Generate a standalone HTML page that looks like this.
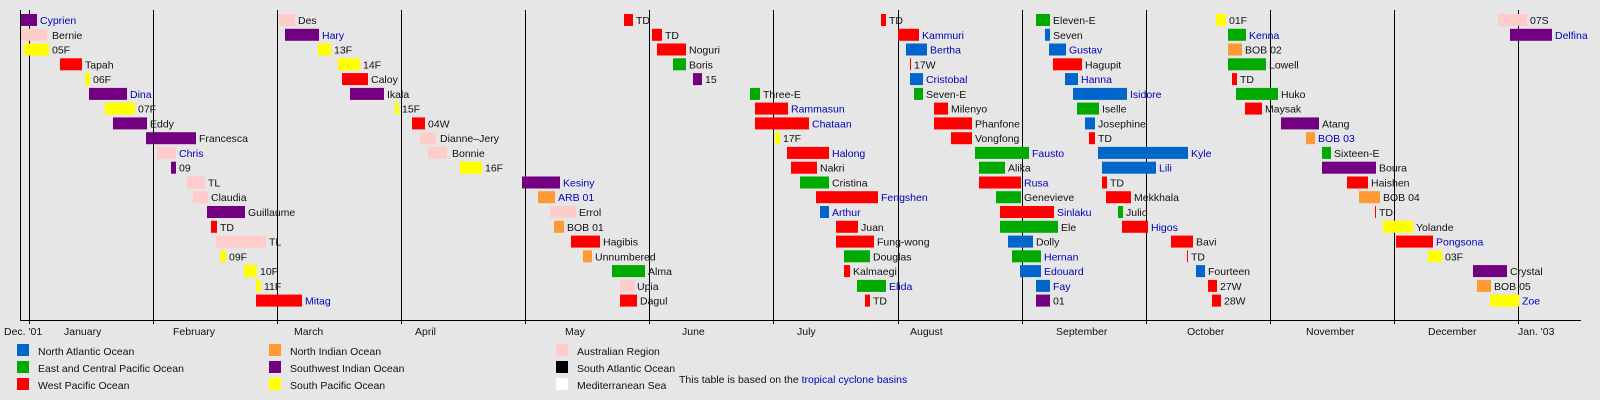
<!DOCTYPE html>
<html><head><meta charset="utf-8"><style>
html,body{margin:0;padding:0;background:#e6e6e6;}
svg{display:block;font-family:"Liberation Sans",Arial,sans-serif;font-size:10.5px;}
.r{fill:#ff0000}.p{fill:#720080}.k{fill:#ffcccc}.y{fill:#ffff00}.g{fill:#00aa00}.b{fill:#0066cc}.o{fill:#ff9933}
text{fill:#111}.l{fill:#0000bb}
</style></head><body>
<svg width="1600" height="400" viewBox="0 0 1600 400" xmlns="http://www.w3.org/2000/svg">
<rect width="1600" height="400" fill="#e6e6e6"/>
<g stroke="#000" stroke-width="1">
<line x1="20.5" y1="10" x2="20.5" y2="321"/>
<line x1="20" y1="320.5" x2="1581" y2="320.5"/>
<line x1="29.5" y1="10" x2="29.5" y2="324"/>
<line x1="153.5" y1="10" x2="153.5" y2="324"/>
<line x1="277.5" y1="10" x2="277.5" y2="324"/>
<line x1="401.5" y1="10" x2="401.5" y2="324"/>
<line x1="525.5" y1="10" x2="525.5" y2="324"/>
<line x1="649.5" y1="10" x2="649.5" y2="324"/>
<line x1="773.5" y1="10" x2="773.5" y2="324"/>
<line x1="898.5" y1="10" x2="898.5" y2="324"/>
<line x1="1022.5" y1="10" x2="1022.5" y2="324"/>
<line x1="1146.5" y1="10" x2="1146.5" y2="324"/>
<line x1="1270.5" y1="10" x2="1270.5" y2="324"/>
<line x1="1394.5" y1="10" x2="1394.5" y2="324"/>
<line x1="1518.5" y1="10" x2="1518.5" y2="324"/>
</g>
<g>
<text x="4" y="335">Dec. '01</text>
<text x="64" y="335">January</text>
<text x="173" y="335">February</text>
<text x="294" y="335">March</text>
<text x="415" y="335">April</text>
<text x="565" y="335">May</text>
<text x="682" y="335">June</text>
<text x="797" y="335">July</text>
<text x="910" y="335">August</text>
<text x="1056" y="335">September</text>
<text x="1187" y="335">October</text>
<text x="1306" y="335">November</text>
<text x="1428" y="335">December</text>
<text x="1518" y="335">Jan. '03</text>
</g>

<g transform="translate(0,14)">
<rect class="p" x="21" y="0" width="16" height="12"/><text class="l" x="40" y="10">Cyprien</text>
<rect class="k" x="279" y="0" width="16" height="12"/><text x="298" y="10">Des</text>
<rect class="r" x="624" y="0" width="9" height="12"/><text x="636" y="10">TD</text>
<rect class="r" x="881" y="0" width="5" height="12"/><text x="889" y="10">TD</text>
<rect class="g" x="1036" y="0" width="14" height="12"/><text x="1053" y="10">Eleven-E</text>
<rect class="y" x="1216" y="0" width="10" height="12"/><text x="1229" y="10">01F</text>
<rect class="k" x="1498" y="0" width="29" height="12"/><text x="1530" y="10">07S</text>
</g>
<g transform="translate(0,28.8)">
<rect class="k" x="21" y="0" width="26" height="12"/><text x="52" y="10">Bernie</text>
<rect class="p" x="285" y="0" width="34" height="12"/><text class="l" x="322" y="10">Hary</text>
<rect class="r" x="652" y="0" width="10" height="12"/><text x="665" y="10">TD</text>
<rect class="r" x="898" y="0" width="21" height="12"/><text class="l" x="922" y="10">Kammuri</text>
<rect class="b" x="1045" y="0" width="5" height="12"/><text x="1053" y="10">Seven</text>
<rect class="g" x="1228" y="0" width="18" height="12"/><text class="l" x="1249" y="10">Kenna</text>
<rect class="p" x="1510" y="0" width="42" height="12"/><text class="l" x="1555" y="10">Delfina</text>
</g>
<g transform="translate(0,43.5)">
<rect class="y" x="24" y="0" width="25" height="12"/><text x="52" y="10">05F</text>
<rect class="y" x="318" y="0" width="13" height="12"/><text x="334" y="10">13F</text>
<rect class="r" x="657" y="0" width="29" height="12"/><text x="689" y="10">Noguri</text>
<rect class="b" x="906" y="0" width="21" height="12"/><text class="l" x="930" y="10">Bertha</text>
<rect class="b" x="1049" y="0" width="17" height="12"/><text class="l" x="1069" y="10">Gustav</text>
<rect class="o" x="1228" y="0" width="14" height="12"/><text x="1245" y="10">BOB 02</text>
</g>
<g transform="translate(0,58.3)">
<rect class="r" x="60" y="0" width="22" height="12"/><text x="85" y="10">Tapah</text>
<rect class="y" x="338" y="0" width="22" height="12"/><text x="363" y="10">14F</text>
<rect class="g" x="673" y="0" width="13" height="12"/><text x="689" y="10">Boris</text>
<rect class="r" x="910" y="0" width="1" height="12"/><text x="914" y="10">17W</text>
<rect class="r" x="1053" y="0" width="29" height="12"/><text x="1085" y="10">Hagupit</text>
<rect class="g" x="1228" y="0" width="38" height="12"/><text x="1269" y="10">Lowell</text>
</g>
<g transform="translate(0,73.1)">
<rect class="y" x="85" y="0" width="5" height="12"/><text x="93" y="10">06F</text>
<rect class="r" x="342" y="0" width="26" height="12"/><text x="371" y="10">Caloy</text>
<rect class="p" x="693" y="0" width="9" height="12"/><text x="705" y="10">15</text>
<rect class="b" x="910" y="0" width="13" height="12"/><text class="l" x="926" y="10">Cristobal</text>
<rect class="b" x="1065" y="0" width="13" height="12"/><text class="l" x="1081" y="10">Hanna</text>
<rect class="r" x="1232" y="0" width="5" height="12"/><text x="1240" y="10">TD</text>
</g>
<g transform="translate(0,87.9)">
<rect class="p" x="89" y="0" width="38" height="12"/><text class="l" x="130" y="10">Dina</text>
<rect class="p" x="350" y="0" width="34" height="12"/><text x="387" y="10">Ikala</text>
<rect class="g" x="750" y="0" width="10" height="12"/><text x="763" y="10">Three-E</text>
<rect class="g" x="914" y="0" width="9" height="12"/><text x="926" y="10">Seven-E</text>
<rect class="b" x="1073" y="0" width="54" height="12"/><text class="l" x="1130" y="10">Isidore</text>
<rect class="g" x="1236" y="0" width="42" height="12"/><text x="1281" y="10">Huko</text>
</g>
<g transform="translate(0,102.6)">
<rect class="y" x="105" y="0" width="30" height="12"/><text x="138" y="10">07F</text>
<rect class="y" x="395" y="0" width="4" height="12"/><text x="402" y="10">15F</text>
<rect class="r" x="755" y="0" width="33" height="12"/><text class="l" x="791" y="10">Rammasun</text>
<rect class="r" x="934" y="0" width="14" height="12"/><text x="951" y="10">Milenyo</text>
<rect class="g" x="1077" y="0" width="22" height="12"/><text x="1102" y="10">Iselle</text>
<rect class="r" x="1245" y="0" width="17" height="12"/><text x="1265" y="10">Maysak</text>
</g>
<g transform="translate(0,117.4)">
<rect class="p" x="113" y="0" width="34" height="12"/><text x="150" y="10">Eddy</text>
<rect class="r" x="412" y="0" width="13" height="12"/><text x="428" y="10">04W</text>
<rect class="r" x="755" y="0" width="54" height="12"/><text class="l" x="812" y="10">Chataan</text>
<rect class="r" x="934" y="0" width="38" height="12"/><text x="975" y="10">Phanfone</text>
<rect class="b" x="1085" y="0" width="10" height="12"/><text x="1098" y="10">Josephine</text>
<rect class="p" x="1281" y="0" width="38" height="12"/><text x="1322" y="10">Atang</text>
</g>
<g transform="translate(0,132.2)">
<rect class="p" x="146" y="0" width="50" height="12"/><text x="199" y="10">Francesca</text>
<rect class="k" x="420" y="0" width="16" height="12"/><text x="440" y="10">Dianne–Jery</text>
<rect class="y" x="775" y="0" width="5" height="12"/><text x="783" y="10">17F</text>
<rect class="r" x="951" y="0" width="21" height="12"/><text x="975" y="10">Vongfong</text>
<rect class="r" x="1089" y="0" width="6" height="12"/><text x="1098" y="10">TD</text>
<rect class="o" x="1306" y="0" width="9" height="12"/><text class="l" x="1318" y="10">BOB 03</text>
</g>
<g transform="translate(0,146.9)">
<rect class="k" x="157" y="0" width="19" height="12"/><text class="l" x="179" y="10">Chris</text>
<rect class="k" x="428" y="0" width="19" height="12"/><text x="452" y="10">Bonnie</text>
<rect class="r" x="787" y="0" width="42" height="12"/><text class="l" x="832" y="10">Halong</text>
<rect class="g" x="975" y="0" width="54" height="12"/><text class="l" x="1032" y="10">Fausto</text>
<rect class="b" x="1098" y="0" width="90" height="12"/><text class="l" x="1191" y="10">Kyle</text>
<rect class="g" x="1322" y="0" width="9" height="12"/><text x="1334" y="10">Sixteen-E</text>
</g>
<g transform="translate(0,161.7)">
<rect class="p" x="171" y="0" width="5" height="12"/><text x="179" y="10">09</text>
<rect class="y" x="460" y="0" width="22" height="12"/><text x="485" y="10">16F</text>
<rect class="r" x="791" y="0" width="26" height="12"/><text x="820" y="10">Nakri</text>
<rect class="g" x="979" y="0" width="26" height="12"/><text x="1008" y="10">Alika</text>
<rect class="b" x="1102" y="0" width="54" height="12"/><text class="l" x="1159" y="10">Lili</text>
<rect class="p" x="1322" y="0" width="54" height="12"/><text x="1379" y="10">Boura</text>
</g>
<g transform="translate(0,176.5)">
<rect class="k" x="187" y="0" width="18" height="12"/><text x="208" y="10">TL</text>
<rect class="p" x="522" y="0" width="38" height="12"/><text class="l" x="563" y="10">Kesiny</text>
<rect class="g" x="800" y="0" width="29" height="12"/><text x="832" y="10">Cristina</text>
<rect class="r" x="979" y="0" width="42" height="12"/><text class="l" x="1024" y="10">Rusa</text>
<rect class="r" x="1102" y="0" width="5" height="12"/><text x="1110" y="10">TD</text>
<rect class="r" x="1347" y="0" width="21" height="12"/><text x="1371" y="10">Haishen</text>
</g>
<g transform="translate(0,191.2)">
<rect class="k" x="193" y="0" width="15" height="12"/><text x="211" y="10">Claudia</text>
<rect class="o" x="538" y="0" width="17" height="12"/><text class="l" x="558" y="10">ARB 01</text>
<rect class="r" x="816" y="0" width="62" height="12"/><text class="l" x="881" y="10">Fengshen</text>
<rect class="g" x="996" y="0" width="25" height="12"/><text x="1024" y="10">Genevieve</text>
<rect class="r" x="1106" y="0" width="25" height="12"/><text x="1134" y="10">Mekkhala</text>
<rect class="o" x="1359" y="0" width="21" height="12"/><text x="1383" y="10">BOB 04</text>
</g>
<g transform="translate(0,206)">
<rect class="p" x="207" y="0" width="38" height="12"/><text x="248" y="10">Guillaume</text>
<rect class="k" x="550" y="0" width="26" height="12"/><text x="579" y="10">Errol</text>
<rect class="b" x="820" y="0" width="9" height="12"/><text class="l" x="832" y="10">Arthur</text>
<rect class="r" x="1000" y="0" width="54" height="12"/><text class="l" x="1057" y="10">Sinlaku</text>
<rect class="g" x="1118" y="0" width="5" height="12"/><text x="1126" y="10">Julio</text>
<rect class="r" x="1375" y="0" width="1" height="12"/><text x="1379" y="10">TD</text>
</g>
<g transform="translate(0,220.8)">
<rect class="r" x="211" y="0" width="6" height="12"/><text x="220" y="10">TD</text>
<rect class="o" x="554" y="0" width="10" height="12"/><text x="567" y="10">BOB 01</text>
<rect class="r" x="836" y="0" width="22" height="12"/><text x="861" y="10">Juan</text>
<rect class="g" x="1000" y="0" width="58" height="12"/><text x="1061" y="10">Ele</text>
<rect class="r" x="1122" y="0" width="26" height="12"/><text class="l" x="1151" y="10">Higos</text>
<rect class="y" x="1383" y="0" width="30" height="12"/><text x="1416" y="10">Yolande</text>
</g>
<g transform="translate(0,235.6)">
<rect class="k" x="216" y="0" width="50" height="12"/><text x="269" y="10">TL</text>
<rect class="r" x="571" y="0" width="29" height="12"/><text x="603" y="10">Hagibis</text>
<rect class="r" x="836" y="0" width="38" height="12"/><text x="877" y="10">Fung-wong</text>
<rect class="b" x="1008" y="0" width="25" height="12"/><text x="1036" y="10">Dolly</text>
<rect class="r" x="1171" y="0" width="22" height="12"/><text x="1196" y="10">Bavi</text>
<rect class="r" x="1396" y="0" width="37" height="12"/><text class="l" x="1436" y="10">Pongsona</text>
</g>
<g transform="translate(0,250.3)">
<rect class="y" x="220" y="0" width="6" height="12"/><text x="229" y="10">09F</text>
<rect class="o" x="583" y="0" width="9" height="12"/><text x="595" y="10">Unnumbered</text>
<rect class="g" x="844" y="0" width="26" height="12"/><text x="873" y="10">Douglas</text>
<rect class="g" x="1012" y="0" width="29" height="12"/><text class="l" x="1044" y="10">Hernan</text>
<rect class="r" x="1187" y="0" width="1" height="12"/><text x="1191" y="10">TD</text>
<rect class="y" x="1428" y="0" width="14" height="12"/><text x="1445" y="10">03F</text>
</g>
<g transform="translate(0,265.1)">
<rect class="y" x="244" y="0" width="13" height="12"/><text x="260" y="10">10F</text>
<rect class="g" x="612" y="0" width="33" height="12"/><text x="648" y="10">Alma</text>
<rect class="r" x="844" y="0" width="6" height="12"/><text x="853" y="10">Kalmaegi</text>
<rect class="b" x="1020" y="0" width="21" height="12"/><text class="l" x="1044" y="10">Edouard</text>
<rect class="b" x="1196" y="0" width="9" height="12"/><text x="1208" y="10">Fourteen</text>
<rect class="p" x="1473" y="0" width="34" height="12"/><text x="1510" y="10">Crystal</text>
</g>
<g transform="translate(0,279.9)">
<rect class="y" x="256" y="0" width="5" height="12"/><text x="264" y="10">11F</text>
<rect class="k" x="620" y="0" width="15" height="12"/><text x="637" y="10">Upia</text>
<rect class="g" x="857" y="0" width="29" height="12"/><text class="l" x="889" y="10">Elida</text>
<rect class="b" x="1036" y="0" width="14" height="12"/><text class="l" x="1053" y="10">Fay</text>
<rect class="r" x="1208" y="0" width="9" height="12"/><text x="1220" y="10">27W</text>
<rect class="o" x="1477" y="0" width="14" height="12"/><text x="1494" y="10">BOB 05</text>
</g>
<g transform="translate(0,294.6)">
<rect class="r" x="256" y="0" width="46" height="12"/><text class="l" x="305" y="10">Mitag</text>
<rect class="r" x="620" y="0" width="17" height="12"/><text x="640" y="10">Dagul</text>
<rect class="r" x="865" y="0" width="5" height="12"/><text x="873" y="10">TD</text>
<rect class="p" x="1036" y="0" width="14" height="12"/><text x="1053" y="10">01</text>
<rect class="r" x="1212" y="0" width="9" height="12"/><text x="1224" y="10">28W</text>
<rect class="y" x="1490" y="0" width="29" height="12"/><text class="l" x="1522" y="10">Zoe</text>
</g>

<rect class="b" x="17" y="344" width="12" height="12"/><text x="38" y="355">North Atlantic Ocean</text>
<rect class="g" x="17" y="361" width="12" height="12"/><text x="38" y="372">East and Central Pacific Ocean</text>
<rect class="r" x="17" y="378" width="12" height="12"/><text x="38" y="389">West Pacific Ocean</text>
<rect class="o" x="269" y="344" width="12" height="12"/><text x="290" y="355">North Indian Ocean</text>
<rect class="p" x="269" y="361" width="12" height="12"/><text x="290" y="372">Southwest Indian Ocean</text>
<rect class="y" x="269" y="378" width="12" height="12"/><text x="290" y="389">South Pacific Ocean</text>
<rect class="k" x="556" y="344" width="12" height="12"/><text x="577" y="355">Australian Region</text>
<rect fill="#000" x="556" y="361" width="12" height="12"/><text x="577" y="372">South Atlantic Ocean</text>
<rect fill="#fff" x="556" y="378" width="12" height="12"/><text x="577" y="389">Mediterranean Sea</text>
<text x="679" y="383">This table is based on the <tspan class="l">tropical cyclone basins</tspan></text>
</svg>
</body></html>
